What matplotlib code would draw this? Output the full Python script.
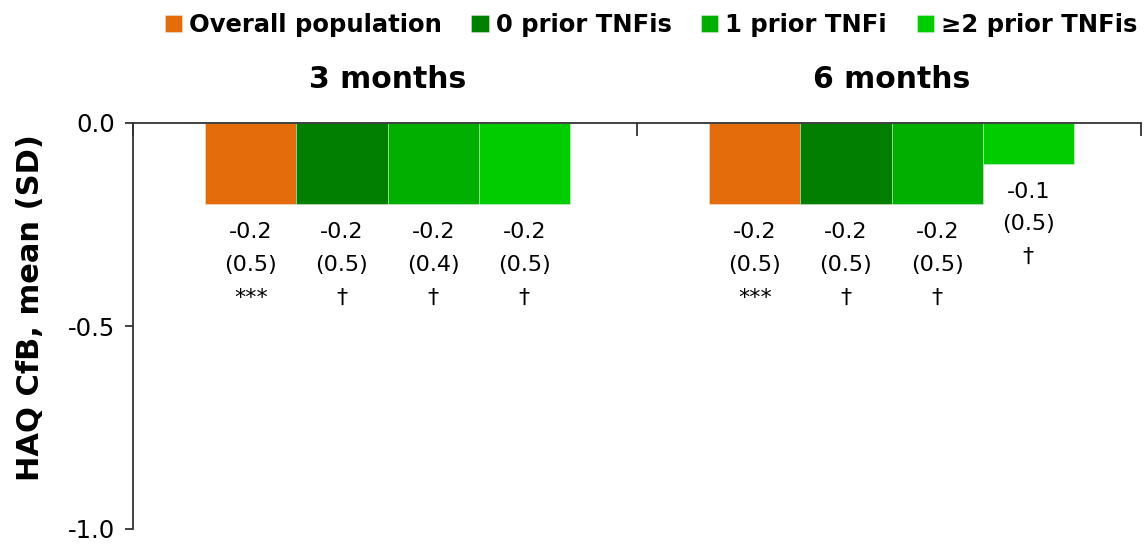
import matplotlib
matplotlib.use("Agg")
import matplotlib.pyplot as plt
import numpy as np

plt.rcParams['font.family'] = ['DejaVu Sans']

categories = ["3 months", "6 months"]
series = ["Overall population", "0 prior TNFis", "1 prior TNFi", "\u22652 prior TNFis"]
colors = ["#E46C0A", "#007F00", "#00AF00", "#00CC00"]
means = {
    "3 months": [-0.2, -0.2, -0.2, -0.2],
    "6 months": [-0.2, -0.2, -0.2, -0.1],
}
sds = {
    "3 months": [0.5, 0.5, 0.4, 0.5],
    "6 months": [0.5, 0.5, 0.5, 0.5],
}
sig = {
    "3 months": ["***", "\u2020", "\u2020", "\u2020"],
    "6 months": ["***", "\u2020", "\u2020", "\u2020"],
}
yticks = [0.0, -0.5, -1.0]
ylabel = "HAQ CfB, mean (SD)"

W, H = 1144, 544
fig = plt.figure(figsize=(W / 100, H / 100), dpi=100)
ax = fig.add_axes([133 / W, (H - 529) / H, (1141 - 133) / W, (529 - 123) / H])

n = len(series)
bw = 0.181
x = np.arange(len(categories)) + 0.005
for j, s in enumerate(series):
    vals = [means[c][j] for c in categories]
    xs = x - bw * (n - 1) / 2 + j * bw
    ax.bar(xs, vals, width=bw, color=colors[j], edgecolor=(1, 1, 1, 0.4),
           linewidth=0.6, label=s, zorder=2)
    for k, c in enumerate(categories):
        txt = f"{means[c][j]:.1f}\n({sds[c][j]:.1f})\n{sig[c][j]}"
        ax.annotate(txt, xy=(xs[k], means[c][j]), xytext=(0, -13),
                    textcoords='offset points', ha='center', va='top',
                    fontsize=16, linespacing=1.8, color='black')

for k, c in enumerate(categories):
    ax.annotate(c, xy=(x[k], 0), xytext=(0, 31), textcoords='offset points',
                ha='center', va='center', fontsize=21.5, fontweight='bold')

ax.set_xlim(-0.5, len(categories) - 0.5)
ax.set_ylim(-1.0, 0.0)
ax.set_yticks(yticks)
ax.set_yticklabels([f"{v:.1f}" for v in yticks], fontsize=17.5)
ax.tick_params(axis='y', direction='out', length=6, width=1.3, pad=7, color='#333333')
ax.xaxis.tick_top()
ax.set_xticks(np.arange(-0.5, len(categories) + 0.5, 1.0))
ax.set_xticklabels([])
ax.tick_params(axis='x', direction='in', length=9, width=1.3, color='#333333')
for sp in ['right', 'bottom']:
    ax.spines[sp].set_visible(False)
for sp in ['left', 'top']:
    ax.spines[sp].set_linewidth(1.3)
    ax.spines[sp].set_color('#333333')
ax.spines['top'].set_zorder(3)

ax.set_ylabel(ylabel, fontsize=22, fontweight='bold')
ax.yaxis.set_label_coords(-0.087, 0.545)

fig.legend(loc='center', bbox_to_anchor=(651 / W, 1 - 25 / H), ncol=4, frameon=False,
           prop={'weight': 'bold', 'size': 17.5}, handlelength=0.7, handleheight=0.7,
           handletextpad=0.29, columnspacing=1.23, borderaxespad=0.0, borderpad=0.0)

fig.savefig("out.png", dpi=100)
